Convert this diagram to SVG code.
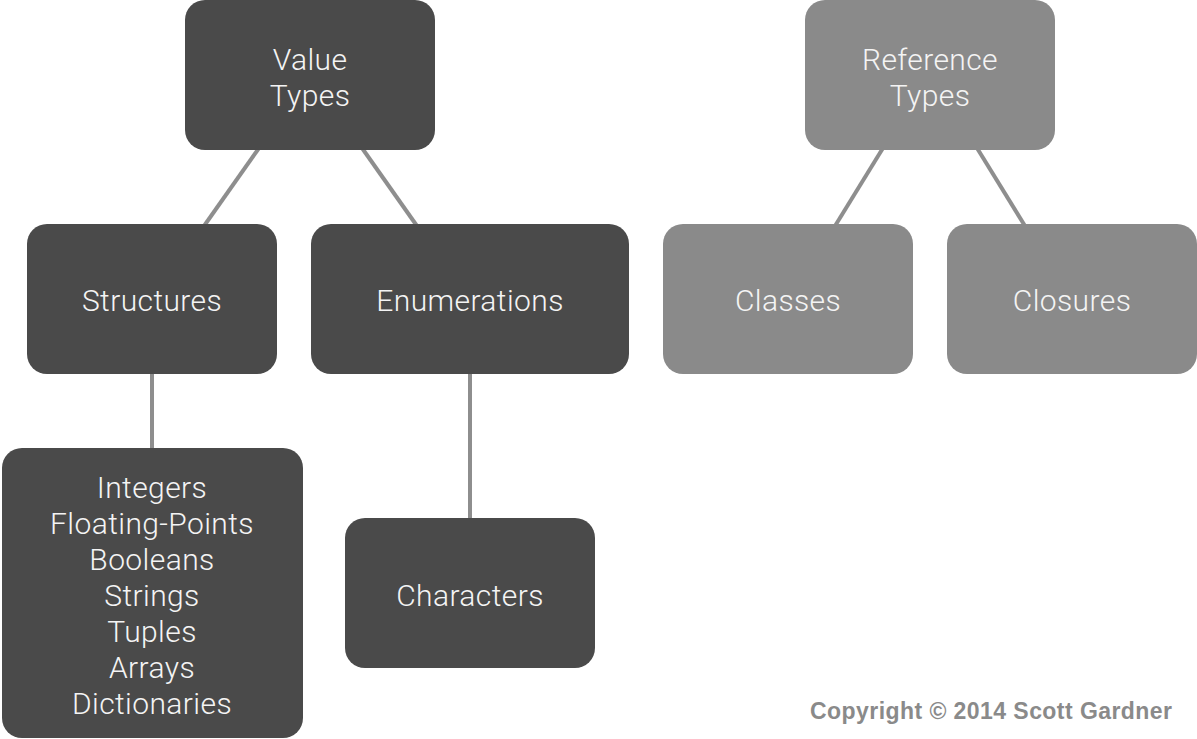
<svg xmlns="http://www.w3.org/2000/svg" width="1197" height="739" viewBox="0 0 1197 739">
<style>
.dark{fill:#4a4a4a}
.light{fill:#8a8a8a}
.lbl{font-family:Roboto,"Liberation Sans",sans-serif;font-weight:300;font-size:30px;letter-spacing:0.4px;fill:#f4f4f4;text-anchor:middle}
.conn line{stroke:#8e8e8e;stroke-width:4}
.copy{font-family:"Liberation Sans",Arial,sans-serif;font-weight:bold;font-size:23px;fill:#8a8a8a}
</style>
<rect width="1197" height="739" fill="#ffffff"/>
<g id="connectors" class="conn">
<line x1="259" y1="148" x2="204" y2="226"/>
<line x1="362" y1="148" x2="417" y2="226"/>
<line x1="883" y1="148" x2="835" y2="226"/>
<line x1="977" y1="148" x2="1025" y2="226"/>
<line x1="152" y1="372" x2="152" y2="450"/>
<line x1="470" y1="372" x2="470" y2="520"/>
</g>
<g id="value-types">
<rect class="dark" x="185" y="0" width="250" height="150" rx="20"/>
<text class="lbl" x="310" y="70">Value</text>
<text class="lbl" x="310" y="106">Types</text>
</g>
<g id="reference-types">
<rect class="light" x="805" y="0" width="250" height="150" rx="20"/>
<text class="lbl" x="930" y="70">Reference</text>
<text class="lbl" x="930" y="106">Types</text>
</g>
<g id="structures">
<rect class="dark" x="27" y="224" width="250" height="150" rx="20"/>
<text class="lbl" x="152" y="311">Structures</text>
</g>
<g id="enumerations">
<rect class="dark" x="311" y="224" width="318" height="150" rx="20"/>
<text class="lbl" x="470" y="311">Enumerations</text>
</g>
<g id="classes">
<rect class="light" x="663" y="224" width="250" height="150" rx="20"/>
<text class="lbl" x="788" y="311">Classes</text>
</g>
<g id="closures">
<rect class="light" x="947" y="224" width="250" height="150" rx="20"/>
<text class="lbl" x="1072" y="311">Closures</text>
</g>
<g id="value-list">
<rect class="dark" x="2" y="448" width="301" height="290" rx="20"/>
<text class="lbl" x="152" y="498">Integers</text>
<text class="lbl" x="152" y="534">Floating-Points</text>
<text class="lbl" x="152" y="570">Booleans</text>
<text class="lbl" x="152" y="606">Strings</text>
<text class="lbl" x="152" y="642">Tuples</text>
<text class="lbl" x="152" y="678">Arrays</text>
<text class="lbl" x="152" y="714">Dictionaries</text>
</g>
<g id="characters">
<rect class="dark" x="345" y="518" width="250" height="150" rx="20"/>
<text class="lbl" x="470" y="606">Characters</text>
</g>
<g id="copyright">
<text class="copy" x="811" y="720.5" textLength="362" style="fill:#ffffff">Copyright © 2014 Scott Gardner</text>
<text class="copy" x="810" y="719" textLength="362">Copyright © 2014 Scott Gardner</text>
</g>
</svg>
